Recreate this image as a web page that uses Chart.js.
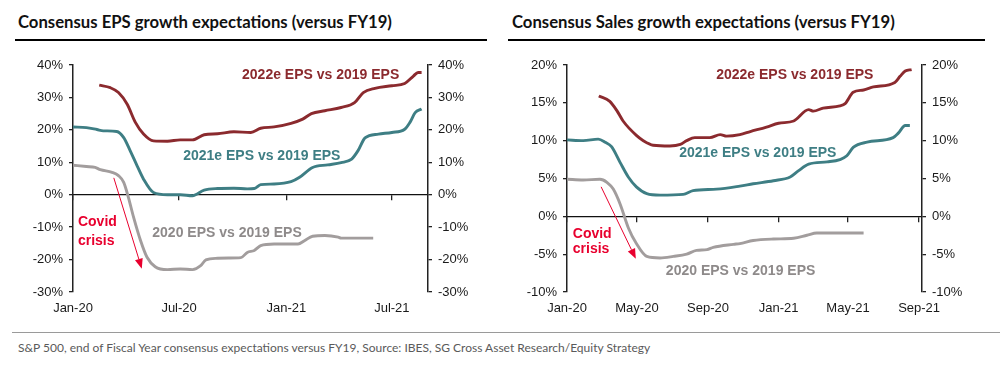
<!DOCTYPE html>
<html>
<head>
<meta charset="utf-8">
<script src="https://cdn.jsdelivr.net/npm/chart.js@4.4.1/dist/chart.umd.min.js"></script>
<style>
  html, body { margin: 0; padding: 0; background: #fff; }
  body { width: 1000px; height: 367px; position: relative; overflow: hidden; }
  .title { position: absolute; top: 11px; font: bold 16.7px Lato, sans-serif; color: #111; white-space: nowrap; line-height: 22px; }
  .rule { position: absolute; top: 39px; height: 0; border-top: 2.5px solid #000; }
  .box { position: absolute; top: 50px; width: 500px; height: 272px; }
  .foot-rule { position: absolute; top: 332px; left: 12px; width: 988px; border-top: 1px solid #9a9a9a; }
  .foot { position: absolute; top: 340px; left: 18px; font: 12px Lato, sans-serif; color: #5a5a5a; white-space: nowrap; }
</style>
</head>
<body>
<div class="title" style="left:18px">Consensus EPS growth expectations (versus FY19)</div>
<div class="rule" style="left:15px;width:472px"></div>
<div class="title" style="left:512px">Consensus Sales growth expectations (versus FY19)</div>
<div class="rule" style="left:508px;width:477px"></div>
<div class="box" style="left:0"><canvas id="eps"></canvas></div>
<div class="box" style="left:500px"><canvas id="sales"></canvas></div>
<div class="foot-rule"></div>
<div class="foot">S&amp;P 500, end of Fiscal Year consensus expectations versus FY19, Source: IBES, SG Cross Asset Research/Equity Strategy</div>
<script>
// ---- Data (x = days since 1 Jan 2020, y = % growth vs FY19) ----
// EPS chart
const epsDays2022 = [45,64,78,93,107,121,138,162,184,205,225,248,276,305,322,345,374,394,409,432,460,483,498,518,547,569,584,592,598];
const epsVals2022 = [33.8,33.0,31.5,27.9,22.3,18.7,16.6,16.5,16.9,16.9,18.5,18.8,19.4,19.2,20.5,20.9,22.0,23.3,25.0,25.9,26.9,28.4,31.5,32.8,33.6,34.3,36.6,37.7,37.7];
const epsDays2021 = [0,23,41,52,75,87,98,110,121,138,162,184,205,225,248,276,299,311,322,345,374,388,411,437,460,478,489,501,524,547,569,578,587,598];
const epsVals2021 = [20.9,20.7,20.1,19.7,19.5,17.6,13.6,8.9,4.8,0.7,0.0,0.0,-0.3,1.4,1.9,2.0,1.8,1.9,3.1,3.3,4.0,5.3,8.4,9.2,9.9,11.0,13.6,17.5,18.7,19.2,20.2,22.3,25.3,26.4];
const epsDays2020 = [0,23,38,47,67,78,87,95,104,116,127,141,162,184,205,219,228,248,267,288,299,311,322,345,386,397,411,432,455,460,515];
const epsVals2020 = [9.1,8.7,8.4,7.7,6.9,5.9,3.8,-0.8,-7.0,-14.2,-19.3,-22.2,-23.1,-22.9,-23.1,-21.9,-20.1,-19.6,-19.5,-19.4,-17.8,-17.2,-15.7,-15.2,-15.2,-14.2,-12.8,-12.6,-13.1,-13.4,-13.4];
const epsTickDays = [0,182,366,547];
const epsTickLabels = ['Jan-20','Jul-20','Jan-21','Jul-21'];

// Sales chart
const salesDays2022 = [55,74,86,97,120,132,149,178,196,207,221,247,265,276,299,317,345,366,392,418,426,443,472,481,495,513,530,567,576,585,596];
const salesVals2022 = [15.9,15.2,14.0,12.6,10.7,10.0,9.4,9.3,9.5,10.0,10.4,10.4,10.8,10.6,10.8,11.2,11.8,12.3,12.6,14.1,13.9,14.3,14.6,14.9,16.4,16.7,17.1,17.7,18.5,19.2,19.4];
const salesDays2021 = [0,28,54,66,77,92,106,120,138,161,201,218,259,299,322,357,386,400,418,450,472,484,495,519,564,573,585,593];
const salesVals2021 = [10.1,10.0,10.2,9.8,9.2,7.1,5.2,3.9,3.0,2.8,2.9,3.4,3.6,4.0,4.3,4.7,5.2,6.0,6.9,7.2,7.5,8.0,9.1,9.8,10.4,11.0,12.0,12.0];
const salesDays2020 = [0,28,57,69,80,92,106,120,138,161,184,207,224,242,253,288,299,322,357,392,415,432,467,513];
const salesVals2020 = [4.9,4.8,4.9,4.5,3.6,1.6,-1.5,-3.6,-5.3,-5.5,-5.3,-5.0,-4.5,-4.4,-4.1,-3.7,-3.6,-3.2,-3.0,-2.9,-2.5,-2.2,-2.2,-2.2];
const salesTickDays = [0,121,244,366,486,609];
const salesTickLabels = ['Jan-20','May-20','Sep-20','Jan-21','May-21','Sep-21'];

const seriesNames = ['2022e EPS vs 2019 EPS','2021e EPS vs 2019 EPS','2020 EPS vs 2019 EPS'];
const covidText = ['Covid','crisis'];

// ---- Styling ----
const C22 = '#8b2a2e', C21 = '#3e7e84', C20 = '#a29d9d', C20T = '#8e8a8a', CRED = '#e8002e';
const tickFont = { family: 'Arial, "Liberation Sans", sans-serif', size: 13 };

function pts(days, vals) { return days.map((d, i) => ({ x: d, y: vals[i] })); }

const notesPlugin = {
  id: 'notes',
  afterDatasetsDraw(chart) {
    const n = chart.options.plugins.notes;
    if (!n) return;
    const xs = chart.scales.x, ys = chart.scales.y, ctx = chart.ctx;
    ctx.save();
    ctx.font = 'bold 14px Arial, "Liberation Sans", sans-serif';
    ctx.textAlign = 'left';
    ctx.textBaseline = 'middle';
    n.labels.forEach(l => {
      ctx.fillStyle = l.color;
      ctx.fillText(l.text, xs.getPixelForValue(l.x), ys.getPixelForValue(l.y));
    });
    const a = n.arrow;
    const x1 = xs.getPixelForValue(a.from[0]), y1 = ys.getPixelForValue(a.from[1]);
    const x2 = xs.getPixelForValue(a.to[0]), y2 = ys.getPixelForValue(a.to[1]);
    const ang = Math.atan2(y2 - y1, x2 - x1), hl = 10, hw = 4;
    ctx.strokeStyle = CRED; ctx.fillStyle = CRED; ctx.lineWidth = 1;
    ctx.beginPath(); ctx.moveTo(x1, y1);
    ctx.lineTo(x2 - hl * Math.cos(ang), y2 - hl * Math.sin(ang)); ctx.stroke();
    ctx.beginPath(); ctx.moveTo(x2, y2);
    ctx.lineTo(x2 - hl * Math.cos(ang) + hw * Math.sin(ang), y2 - hl * Math.sin(ang) - hw * Math.cos(ang));
    ctx.lineTo(x2 - hl * Math.cos(ang) - hw * Math.sin(ang), y2 - hl * Math.sin(ang) + hw * Math.cos(ang));
    ctx.closePath(); ctx.fill();
    ctx.restore();
  }
};

function makeChart(id, cfg) {
  const ds = (data, color) => ({ data, borderColor: color, borderWidth: 2.9, pointRadius: 0, tension: 0.3, cubicInterpolationMode: 'monotone', fill: false });
  const tickMap = {};
  cfg.tickDays.forEach((d, i) => tickMap[d] = cfg.tickLabels[i]);
  const setTicks = s => { s.ticks = cfg.tickDays.map(v => ({ value: v })); };
  const yAxis = (pos, w) => ({
    type: 'linear', position: pos, min: cfg.ymin, max: cfg.ymax,
    ticks: { stepSize: cfg.step, font: tickFont, color: '#1a1a1a', padding: 6, callback: v => v + '%' },
    grid: { display: true, drawOnChartArea: false, drawTicks: true, tickLength: 4, color: '#222', lineWidth: 1.3 },
    border: { display: true, color: '#222', width: 1.5 },
    afterFit: s => { s.width = w; }
  });
  return new Chart(document.getElementById(id), {
    type: 'line',
    data: { datasets: [ ds(pts(...cfg.s22), C22), ds(pts(...cfg.s21), C21), ds(pts(...cfg.s20), C20) ] },
    options: {
      responsive: true, maintainAspectRatio: false, animation: false,
      layout: { padding: { top: 15, left: 0, right: 0, bottom: 0 } },
      plugins: { legend: { display: false }, tooltip: { enabled: false }, notes: cfg.notes },
      scales: {
        x: {
          type: 'linear', min: 0, max: cfg.xmax,
          afterBuildTicks: setTicks,
          ticks: { font: tickFont, color: '#1a1a1a', padding: 9, maxRotation: 0, autoSkip: false, callback: v => tickMap[v] || '' },
          grid: { display: false, drawTicks: false },
          border: { display: false },
          afterFit: s => { s.height = 30; }
        },
        x0: {
          type: 'linear', axis: 'x', position: { y: 0 }, min: 0, max: cfg.xmax,
          afterBuildTicks: setTicks,
          ticks: { display: false },
          grid: { display: true, drawOnChartArea: false, drawTicks: true, tickLength: 5, color: '#222', lineWidth: 1.3 },
          border: { display: true, color: '#111', width: 1.3 }
        },
        y: yAxis('left', cfg.leftW),
        y2: yAxis('right', cfg.rightW)
      }
    },
    plugins: [notesPlugin]
  });
}

makeChart('eps', {
  s22: [epsDays2022, epsVals2022], s21: [epsDays2021, epsVals2021], s20: [epsDays2020, epsVals2020],
  tickDays: epsTickDays, tickLabels: epsTickLabels, xmax: 609,
  ymin: -30, ymax: 40, step: 10, leftW: 73, rightW: 72,
  notes: {
    labels: [
      { text: seriesNames[0], x: 290, y: 37.0, color: C22 },
      { text: seriesNames[1], x: 189, y: 12.0, color: C21 },
      { text: seriesNames[2], x: 136, y: -11.7, color: C20T },
      { text: covidText[0], x: 8.5, y: -8.6, color: CRED },
      { text: covidText[1], x: 8.5, y: -14.2, color: CRED }
    ],
    arrow: { from: [70, 5.2], to: [118, -22.8] }
  }
});

makeChart('sales', {
  s22: [salesDays2022, salesVals2022], s21: [salesDays2021, salesVals2021], s20: [salesDays2020, salesVals2020],
  tickDays: salesTickDays, tickLabels: salesTickLabels, xmax: 614,
  ymin: -10, ymax: 20, step: 5, leftW: 67, rightW: 78,
  notes: {
    labels: [
      { text: seriesNames[0], x: 258, y: 18.7, color: C22 },
      { text: seriesNames[1], x: 194, y: 8.3, color: C21 },
      { text: seriesNames[2], x: 171, y: -7.3, color: C20T },
      { text: covidText[0], x: 10, y: -2.3, color: CRED },
      { text: covidText[1], x: 10, y: -4.4, color: CRED }
    ],
    arrow: { from: [59, 3.9], to: [119, -5.6] }
  }
});
</script>
</body>
</html>
